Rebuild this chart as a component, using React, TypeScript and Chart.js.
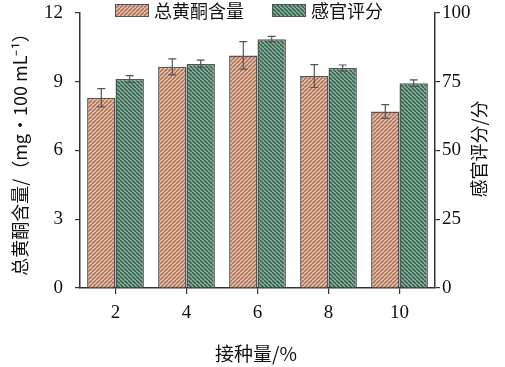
import React, { useEffect, useRef } from "react";
import { Chart, registerables } from "chart.js";

Chart.register(...registerables);

const categories = ["2", "4", "6", "8", "10"];
const flavonoid = [8.3, 9.65, 10.15, 9.25, 7.7];
const flavonoidErr = [0.4, 0.35, 0.6, 0.5, 0.3];
const sensory = [76, 81.5, 90.5, 80, 74.5];
const sensoryErr = [1.2, 1.4, 1.0, 1.1, 1.2];
const leftTicks = [0, 3, 6, 9, 12];
const rightTicks = [0, 25, 50, 75, 100];

const seriesNames = ["总黄酮含量", "感官评分"];
const leftTitle = "总黄酮含量/（mg•100 mL⁻¹）";
const rightTitle = "感官评分/分";
const xTitle = "接种量/%";

const CJK = '"Noto Sans CJK SC", sans-serif';
const SERIF = '"Liberation Serif", "DejaVu Serif", serif';

function makePattern(base: string, stripe: string, dir: number) {
  const c = document.createElement("canvas");
  const s = 4;
  c.width = s;
  c.height = s;
  const g = c.getContext("2d")!;
  g.fillStyle = base;
  g.fillRect(0, 0, s, s);
  g.strokeStyle = stripe;
  g.lineWidth = 1.6;
  g.beginPath();
  if (dir > 0) {
    for (let k = -1; k <= 1; k++) {
      g.moveTo(k * s, s);
      g.lineTo(k * s + s, 0);
    }
  } else {
    for (let k = -1; k <= 1; k++) {
      g.moveTo(k * s, 0);
      g.lineTo(k * s + s, s);
    }
  }
  g.stroke();
  return g.createPattern(c, "repeat")!;
}

export default function App() {
  const ref = useRef<HTMLCanvasElement>(null);
  useEffect(() => {
    document.body.style.margin = "0";
    const orange = makePattern("#f2c4a8", "#a87764", 1);
    const green = makePattern("#8dbba3", "#3b6351", -1);
    const errs = [flavonoidErr, sensoryErr];
    const vals = [flavonoid, sensory];
    const axisColor = "#333";
    const textColor = "#111";

    const plugin = {
      id: "custom",
      afterDatasetsDraw(chart: any) {
        const ctx = chart.ctx;
        ctx.save();
        ctx.strokeStyle = "#555";
        ctx.lineWidth = 1.2;
        [0, 1].forEach((di) => {
          const meta = chart.getDatasetMeta(di);
          const sc = chart.scales[di === 0 ? "y" : "y1"];
          meta.data.forEach((bar: any, i: number) => {
            const v = vals[di][i];
            const e = errs[di][i];
            const yt = sc.getPixelForValue(v + e);
            const yb = sc.getPixelForValue(v - e);
            const x = bar.x;
            ctx.beginPath();
            ctx.moveTo(x, yt);
            ctx.lineTo(x, yb);
            ctx.moveTo(x - 4, yt);
            ctx.lineTo(x + 4, yt);
            ctx.moveTo(x - 4, yb);
            ctx.lineTo(x + 4, yb);
            ctx.stroke();
          });
        });
        ctx.restore();
      },
      afterDraw(chart: any) {
        const ctx = chart.ctx;
        ctx.save();
        // legend
        const items = [
          { x: 115, fill: orange, text: seriesNames[0] },
          { x: 272, fill: green, text: seriesNames[1] },
        ];
        items.forEach((it) => {
          ctx.fillStyle = it.fill;
          ctx.fillRect(it.x, 4, 34, 13);
          ctx.strokeStyle = "#555";
          ctx.lineWidth = 1;
          ctx.strokeRect(it.x + 0.5, 4.5, 33, 12);
          ctx.fillStyle = textColor;
          ctx.font = `18px ${CJK}`;
          ctx.textBaseline = "middle";
          ctx.textAlign = "left";
          ctx.fillText(it.text, it.x + 39, 11);
        });
        // axis titles
        ctx.fillStyle = textColor;
        ctx.font = `18px ${CJK}`;
        ctx.textAlign = "center";
        ctx.textBaseline = "middle";
        ctx.save();
        ctx.translate(20, 150);
        ctx.rotate(-Math.PI / 2);
        ctx.fillText(leftTitle, 0, 0);
        ctx.restore();
        ctx.save();
        ctx.translate(479, 149);
        ctx.rotate(-Math.PI / 2);
        ctx.fillText(rightTitle, 0, 0);
        ctx.restore();
        ctx.font = `19px ${CJK}`;
        ctx.fillText(xTitle, 256, 354);
        ctx.restore();
      },
    };

    const tickFont = { family: SERIF, size: 19 };

    const chart = new Chart(ref.current!, {
      type: "bar",
      data: {
        labels: categories,
        datasets: [
          {
            label: seriesNames[0],
            data: flavonoid,
            backgroundColor: orange,
            borderColor: "#555",
            borderWidth: 1.5,
            yAxisID: "y",
            categoryPercentage: 0.8,
            barPercentage: 1,
          },
          {
            label: seriesNames[1],
            data: sensory,
            backgroundColor: green,
            borderColor: "#555",
            borderWidth: 1.5,
            yAxisID: "y1",
            categoryPercentage: 0.8,
            barPercentage: 1,
          },
        ],
      },
      options: {
        animation: false,
        responsive: false,
        layout: { padding: { top: 13, left: 0, right: 0, bottom: 0 } },
        plugins: { legend: { display: false }, tooltip: { enabled: false } },
        scales: {
          x: {
            grid: {
              offset: false,
              drawOnChartArea: false,
              tickLength: 6,
              color: axisColor,
              lineWidth: 1.2,
            },
            border: { display: true, color: axisColor, width: 1.5 },
            ticks: { color: textColor, font: tickFont, padding: 8 },
            afterFit(s: any) {
              s.height = 79;
              s.paddingLeft = 0;
              s.paddingRight = 0;
            },
          },
          y: {
            position: "left",
            min: 0,
            max: 12,
            afterBuildTicks(s: any) {
              s.ticks = leftTicks.map((v) => ({ value: v }));
            },
            grid: {
              drawOnChartArea: false,
              tickLength: 5,
              color: axisColor,
              lineWidth: 1.2,
            },
            border: { display: true, color: axisColor, width: 1.5 },
            ticks: { color: textColor, font: tickFont, padding: 12 },
            afterFit(s: any) {
              s.width = 80;
              s.paddingTop = 0;
              s.paddingBottom = 0;
            },
          },
          y1: {
            position: "right",
            min: 0,
            max: 100,
            afterBuildTicks(s: any) {
              s.ticks = rightTicks.map((v) => ({ value: v }));
            },
            grid: {
              drawOnChartArea: false,
              tickLength: 5,
              color: axisColor,
              lineWidth: 1.2,
            },
            border: { display: true, color: axisColor, width: 1.5 },
            ticks: { color: textColor, font: tickFont, padding: 2 },
            afterFit(s: any) {
              s.width = 70;
              s.paddingTop = 0;
              s.paddingBottom = 0;
            },
          },
        },
      },
      plugins: [plugin],
    });
    return () => chart.destroy();
  }, []);
  return (
    <div style={{ width: 505, height: 367 }}>
      <canvas ref={ref} width={505} height={367} style={{ display: "block" }} />
    </div>
  );
}
